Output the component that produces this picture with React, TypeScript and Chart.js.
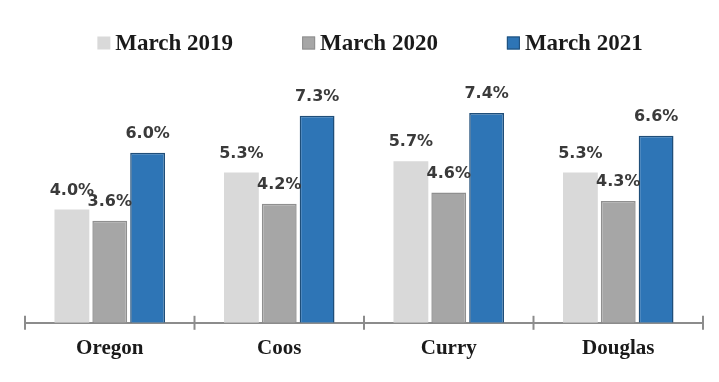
import React, { useEffect, useRef } from "react";
import { Chart, registerables } from "chart.js";

Chart.register(...registerables);

const categories = ["Oregon", "Coos", "Curry", "Douglas"];
const seriesNames = ["March 2019", "March 2020", "March 2021"];
const march2019 = [4.0, 5.3, 5.7, 5.3];
const march2020 = [3.6, 4.2, 4.6, 4.3];
const march2021 = [6.0, 7.3, 7.4, 6.6];
const fillColors = ["#d9d9d9", "#a6a6a6", "#2e75b6"];
const borderColors = ["#d9d9d9", "#8f8f8f", "#1f4e79"];

const SERIF = "'Liberation Serif', 'DejaVu Serif', serif";
const SANS = "'DejaVu Sans', Verdana, sans-serif";

const valueLabels = {
  id: "valueLabels",
  afterDatasetsDraw(chart: any) {
    const ctx = chart.ctx;
    ctx.save();
    ctx.font = `bold 16px ${SANS}`;
    ctx.fillStyle = "#3a3a3a";
    ctx.textAlign = "center";
    ctx.textBaseline = "middle";
    chart.data.datasets.forEach((ds: any, di: number) => {
      const meta = chart.getDatasetMeta(di);
      meta.data.forEach((el: any, i: number) => {
        const v = ds.data[i] as number;
        ctx.fillText(v.toFixed(1) + "%", el.x, el.y - 19);
      });
    });
    ctx.restore();
  },
};

const axisTicks = {
  id: "axisTicks",
  afterDraw(chart: any) {
    const x = chart.scales.x;
    const ctx = chart.ctx;
    const y = chart.chartArea.bottom;
    ctx.save();
    ctx.strokeStyle = "#8c8c8c";
    ctx.lineWidth = 2;
    for (let i = 0; i <= categories.length; i++) {
      const px = x.getPixelForValue(i - 0.5);
      ctx.beginPath();
      ctx.moveTo(px, y - 7);
      ctx.lineTo(px, y + 7);
      ctx.stroke();
    }
    ctx.restore();
  },
};

const topLegend = {
  id: "topLegend",
  afterDraw(chart: any) {
    const ctx = chart.ctx;
    const ds = chart.data.datasets;
    const box = 13;
    const gapText = 5;
    const gapItem = 69;
    ctx.save();
    ctx.font = `bold 23px ${SERIF}`;
    ctx.textBaseline = "middle";
    ctx.textAlign = "left";
    const widths = ds.map((d: any) => box + gapText + ctx.measureText(d.label).width);
    const total = widths.reduce((a: number, b: number) => a + b, 0) + gapItem * (ds.length - 1);
    const center = (chart.chartArea.left + chart.chartArea.right) / 2 + 6;
    let x = center - total / 2;
    const y = 43;
    ds.forEach((d: any, i: number) => {
      ctx.fillStyle = d.backgroundColor;
      ctx.fillRect(x, y - box / 2, box, box);
      if (d.borderWidth) {
        ctx.strokeStyle = d.borderColor;
        ctx.lineWidth = 1;
        ctx.strokeRect(x + 0.5, y - box / 2 + 0.5, box - 1, box - 1);
      }
      ctx.fillStyle = "#1a1a1a";
      ctx.fillText(d.label, x + box + gapText, y + 1);
      x += widths[i] + gapItem;
    });
    ctx.restore();
  },
};

export default function App() {
  const ref = useRef<HTMLCanvasElement | null>(null);
  useEffect(() => {
    if (!ref.current) return;
    const series = [march2019, march2020, march2021];
    const chart = new Chart(ref.current, {
      type: "bar",
      data: {
        labels: categories,
        datasets: series.map((d, i) => ({
          label: seriesNames[i],
          data: d,
          backgroundColor: fillColors[i],
          borderColor: borderColors[i],
          borderWidth: i === 0 ? 0 : 1.5,
          categoryPercentage: 0.67,
          barPercentage: 0.92,
        })),
      },
      options: {
        animation: false,
        responsive: true,
        maintainAspectRatio: false,
        layout: { padding: { left: 25, right: 16, top: 96, bottom: 16 } },
        plugins: {
          tooltip: { enabled: false },
          legend: { display: false },
        },
        scales: {
          x: {
            grid: { display: false },
            border: { display: true, color: "#8c8c8c", width: 2 },
            ticks: {
              padding: 5,
              color: "#1a1a1a",
              font: { family: SERIF, size: 21, weight: "bold" },
            },
          },
          y: {
            display: false,
            min: 0,
            max: 8,
          },
        },
      },
      plugins: [valueLabels, axisTicks, topLegend],
    });
    return () => chart.destroy();
  }, []);
  return (
    <div style={{ position: "absolute", left: 0, top: 0, width: 719, height: 382, background: "#fff" }}>
      <canvas ref={ref} />
    </div>
  );
}
